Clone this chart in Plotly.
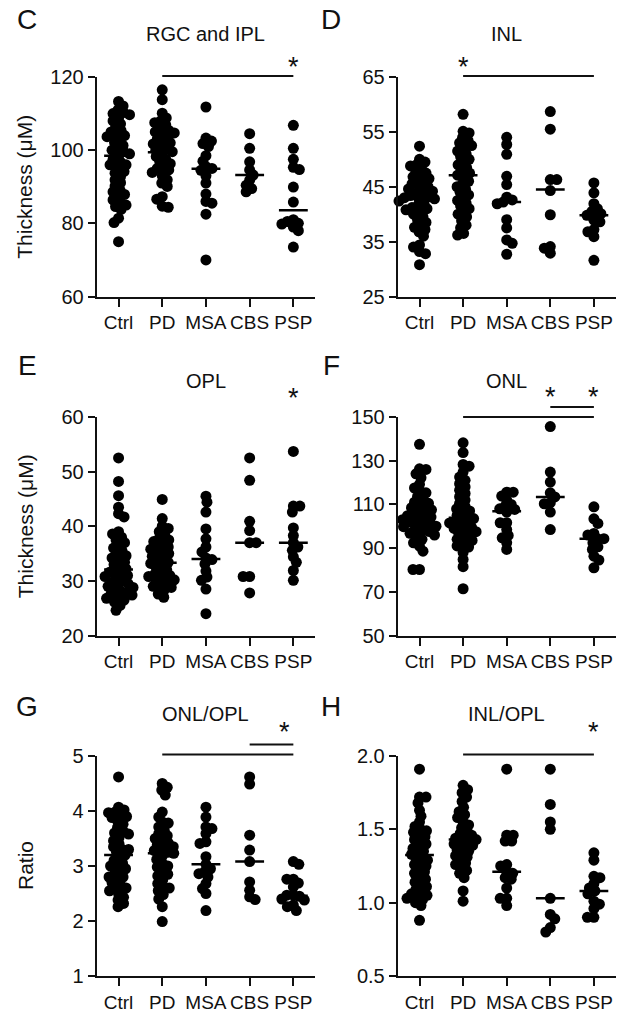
import numpy as np
import plotly.graph_objects as go

W, H = 632, 1016
FONT = "Liberation Sans, Arial, sans-serif"
INK = "#111111"

groups = ["Ctrl", "PD", "MSA", "CBS", "PSP"]

# ---------------- C: RGC and IPL ----------------
rgc_ctrl = [113.3, 112.1, 111.0, 110.3, 110.0, 109.7, 108.8, 108.0, 107.2, 106.2, 105.4, 105.0, 104.2, 104.0,
            103.7, 102.8, 102.1, 101.3, 100.3, 100.0, 99.6, 99.0, 98.3, 97.5, 96.7, 96.0, 96.0, 95.1, 94.2,
            93.7, 92.8, 91.9, 91.1, 90.2, 89.1, 88.6, 87.9, 87.3, 86.4, 85.7, 85.0, 84.6, 83.8, 81.4, 80.2, 75.0]
rgc_pd = [116.5, 113.8, 110.1, 108.8, 108.0, 107.5, 106.9, 106.0, 105.4, 105.0, 104.7, 104.0, 103.7, 103.0,
          102.4, 102.0, 101.7, 101.0, 100.4, 100.0, 99.6, 98.9, 98.3, 97.5, 96.9, 96.3, 95.5, 95.0, 94.6,
          93.9, 93.0, 91.9, 91.0, 90.1, 87.3, 86.6, 84.7, 84.4]
rgc_msa = [111.8, 103.3, 102.5, 101.8, 101.0, 98.5, 97.0, 95.5, 95.0, 94.5, 93.0, 91.0, 88.0, 86.0, 85.5, 82.5, 70.0]
rgc_cbs = [104.5, 100.5, 96.8, 94.6, 93.2, 91.8, 90.4, 89.5, 88.6]
rgc_psp = [106.8, 100.5, 97.5, 95.3, 94.7, 89.9, 85.8, 81.0, 80.5, 80.0, 79.8, 79.0, 78.0, 73.5]
rgc_med = [98.5, 99.4, 94.9, 93.2, 83.6]

# ---------------- D: INL ----------------
inl_ctrl = [52.4, 50.0, 49.5, 49.0, 48.8, 48.3, 47.8, 47.5, 47.0, 46.8, 46.5, 46.0, 45.8, 45.5, 45.0, 44.8,
            44.6, 44.2, 43.8, 43.6, 43.4, 43.2, 43.0, 42.8, 42.7, 42.4, 42.0, 41.6, 41.2, 41.0, 40.8, 40.4,
            40.0, 39.5, 39.0, 38.5, 38.0, 37.6, 37.2, 36.8, 36.0, 34.4, 34.0, 33.2, 32.8, 30.8]
inl_pd = [58.2, 55.1, 54.8, 54.0, 53.4, 53.0, 52.5, 52.0, 51.5, 51.0, 50.5, 50.0, 49.5, 49.0, 48.5, 48.0,
          47.5, 47.1, 46.6, 46.0, 45.5, 45.0, 44.5, 44.0, 43.5, 43.0, 42.5, 42.0, 41.5, 41.0, 40.5, 40.0,
          39.5, 38.8, 38.0, 37.5, 36.5, 36.2]
inl_msa = [54.0, 52.7, 50.9, 46.9, 45.4, 43.1, 42.6, 42.2, 41.9, 39.0, 37.5, 35.3, 34.7, 32.7]
inl_cbs = [58.7, 55.5, 46.3, 46.3, 44.3, 39.9, 34.1, 33.8, 32.9]
inl_psp = [45.7, 43.9, 41.9, 41.0, 40.5, 40.1, 39.8, 38.9, 38.6, 37.2, 36.8, 35.9, 31.6]
inl_med = [42.8, 47.1, 42.2, 44.5, 39.8]

# ---------------- E: OPL ----------------
opl_ctrl = [52.5, 48.2, 45.6, 43.5, 42.3, 41.7, 39.0, 38.6, 38.0, 37.5, 37.0, 36.5, 36.0, 35.5, 35.0, 34.6,
            34.2, 33.8, 33.4, 33.0, 32.6, 32.2, 31.8, 31.6, 31.4, 31.0, 30.8, 30.6, 30.2, 29.8, 29.5, 29.4,
            29.0, 28.8, 28.6, 28.2, 27.8, 27.6, 27.4, 27.0, 26.8, 26.5, 26.1, 25.5, 24.6]
opl_pd = [44.9, 41.4, 40.0, 39.6, 39.0, 38.4, 37.8, 37.5, 37.2, 36.6, 36.2, 36.0, 35.8, 35.5, 35.0, 34.8,
          34.5, 34.0, 33.6, 33.4, 33.2, 32.8, 32.4, 32.0, 31.6, 31.2, 31.0, 30.8, 30.4, 30.2, 30.0, 29.6,
          29.2, 29.0, 28.8, 28.2, 27.6, 27.0]
opl_msa = [45.5, 44.4, 42.6, 39.5, 37.7, 36.2, 35.3, 34.2, 33.9, 33.1, 31.8, 30.7, 30.1, 28.5, 24.0]
opl_cbs = [52.5, 48.4, 40.9, 39.2, 37.0, 37.0, 30.8, 30.8, 27.8]
opl_psp = [53.7, 43.7, 43.7, 42.6, 39.7, 38.3, 37.0, 36.2, 35.6, 34.4, 33.4, 31.9, 30.1]
opl_med = [32.1, 33.3, 34.0, 37.0, 37.0]

# ---------------- F: ONL ----------------
onl_ctrl = [137.5, 126.3, 126.0, 124.0, 122.2, 119.2, 117.5, 116.1, 115.3, 113.5, 112.0, 111.0, 110.5, 109.5,
            108.5, 108.0, 107.5, 106.5, 105.5, 105.0, 104.8, 104.2, 103.6, 103.0, 102.4, 102.0, 101.8, 101.2,
            100.6, 100.0, 99.8, 99.2, 98.4, 97.6, 97.0, 96.8, 96.0, 95.0, 94.0, 92.4, 90.9, 88.6, 80.2, 80.2]
onl_pd = [138.2, 133.7, 128.3, 127.5, 124.8, 122.5, 121.0, 119.5, 118.0, 116.5, 115.0, 113.5, 112.0, 110.5,
          109.0, 108.0, 107.0, 106.0, 105.0, 104.0, 103.5, 103.0, 102.0, 101.5, 101.0, 100.0, 99.5, 99.0,
          98.0, 97.5, 97.0, 96.0, 95.0, 94.0, 93.5, 92.0, 91.0, 90.5, 88.0, 84.8, 81.5, 71.4]
onl_msa = [115.6, 115.6, 113.8, 112.0, 110.0, 109.2, 108.0, 107.7, 106.5, 101.6, 101.6, 98.5, 95.8, 94.7, 92.4, 89.4]
onl_cbs = [145.6, 124.8, 120.2, 115.3, 113.4, 110.8, 110.3, 106.5, 98.5]
onl_psp = [108.9, 103.4, 101.3, 96.7, 96.0, 94.3, 94.3, 92.4, 90.6, 89.4, 86.3, 84.5, 81.0]
onl_med = [103.9, 103.9, 106.9, 113.4, 94.3]

# ---------------- G: ONL/OPL ----------------
r1_ctrl = [4.62, 4.07, 4.02, 3.98, 3.97, 3.92, 3.90, 3.88, 3.82, 3.76, 3.70, 3.64, 3.60, 3.58, 3.52, 3.46,
           3.40, 3.35, 3.30, 3.30, 3.25, 3.20, 3.15, 3.10, 3.05, 3.00, 3.00, 2.95, 2.90, 2.85, 2.80, 2.80,
           2.75, 2.70, 2.65, 2.60, 2.60, 2.55, 2.50, 2.43, 2.38, 2.32, 2.26]
r1_pd = [4.50, 4.43, 4.38, 4.29, 3.98, 3.89, 3.80, 3.78, 3.71, 3.65, 3.59, 3.55, 3.50, 3.45, 3.42, 3.38,
         3.35, 3.32, 3.28, 3.25, 3.23, 3.18, 3.12, 3.05, 3.00, 2.98, 2.90, 2.85, 2.82, 2.75, 2.68, 2.62,
         2.60, 2.55, 2.48, 2.40, 2.26, 1.99]
r1_msa = [4.07, 3.89, 3.71, 3.68, 3.59, 3.44, 3.41, 3.17, 3.03, 2.95, 2.90, 2.86, 2.80, 2.68, 2.59, 2.50, 2.19]
r1_cbs = [4.62, 4.49, 3.56, 3.29, 3.08, 2.71, 2.56, 2.44, 2.39]
r1_psp = [3.08, 3.03, 2.76, 2.76, 2.69, 2.62, 2.47, 2.47, 2.45, 2.40, 2.38, 2.29, 2.26, 2.19]
r1_med = [3.20, 3.23, 3.03, 3.08, 2.46]

# ---------------- H: INL/OPL ----------------
r2_ctrl = [1.91, 1.72, 1.72, 1.68, 1.63, 1.59, 1.55, 1.52, 1.50, 1.49, 1.48, 1.46, 1.45, 1.43, 1.42, 1.40,
           1.38, 1.37, 1.35, 1.34, 1.33, 1.31, 1.30, 1.29, 1.27, 1.26, 1.25, 1.23, 1.21, 1.20, 1.17, 1.16,
           1.14, 1.12, 1.11, 1.09, 1.07, 1.06, 1.05, 1.04, 1.03, 1.02, 1.00, 0.98, 0.88]
r2_pd = [1.80, 1.77, 1.75, 1.72, 1.69, 1.65, 1.62, 1.60, 1.58, 1.55, 1.53, 1.51, 1.49, 1.47, 1.46, 1.45,
         1.44, 1.43, 1.42, 1.41, 1.40, 1.39, 1.37, 1.36, 1.35, 1.33, 1.32, 1.31, 1.29, 1.27, 1.26, 1.24,
         1.22, 1.20, 1.17, 1.08, 1.01]
r2_msa = [1.91, 1.46, 1.46, 1.42, 1.42, 1.26, 1.25, 1.21, 1.20, 1.17, 1.16, 1.10, 1.03, 1.03, 0.98]
r2_cbs = [1.91, 1.67, 1.55, 1.50, 1.03, 0.92, 0.89, 0.83, 0.80]
r2_psp = [1.34, 1.29, 1.18, 1.17, 1.13, 1.10, 1.08, 1.06, 1.01, 0.99, 0.96, 0.90, 0.90]
r2_med = [1.325, 1.43, 1.21, 1.03, 1.08]

panel_letters = ["C", "D", "E", "F", "G", "H"]
panel_titles = ["RGC and IPL", "INL", "OPL", "ONL", "ONL/OPL", "INL/OPL"]
y_titles = ["Thickness (μM)", "", "Thickness (μM)", "", "Ratio", ""]
y_ticks = [[60, 80, 100, 120], [25, 35, 45, 55, 65], [20, 30, 40, 50, 60],
           [50, 70, 90, 110, 130, 150], [1, 2, 3, 4, 5], [0.5, 1.0, 1.5, 2.0]]
y_ticktext = [None, None, None, None, None, ["0.5", "1.0", "1.5", "2.0"]]
panel_data = [
    [rgc_ctrl, rgc_pd, rgc_msa, rgc_cbs, rgc_psp],
    [inl_ctrl, inl_pd, inl_msa, inl_cbs, inl_psp],
    [opl_ctrl, opl_pd, opl_msa, opl_cbs, opl_psp],
    [onl_ctrl, onl_pd, onl_msa, onl_cbs, onl_psp],
    [r1_ctrl, r1_pd, r1_msa, r1_cbs, r1_psp],
    [r2_ctrl, r2_pd, r2_msa, r2_cbs, r2_psp],
]
panel_medians = [rgc_med, inl_med, opl_med, onl_med, r1_med, r2_med]
sig_bars = [[(1, 4, 0)], [(1, 4, 0)], [], [(1, 4, 0), (3, 4, 1)], [(1, 4, 0), (3, 4, 1)], [(1, 4, 0)]]
sig_stars = [[4.0], [1.0], [4.0], [3.0, 4.0], [3.8], [4.0]]

# ---------------- layout geometry (pixels) ----------------
COL_X = [(96.7, 315.2), (397.7, 615.7)]
ROW_Y = [(77.0, 296.5), (417.0, 635.5), (756.0, 976.0)]
TITLE_Y = [34, 381, 714]
LETTER_X = [27, 331]
LETTER_Y = [20, 365, 706]
BAR_OFF = [[1, 0], [1, 0], [0, 0], [0, 10], [1.5, 11.5], [1.5, 0]]
STAR_OFF = [15, 15, 24, 25, 29, 29]
DOT = 11
FS = 20
FS_CAT = 19


def swarm(vals, px_per_unit, px_per_cat, diam=DOT, overlap=0.55):
    """Deterministic beeswarm: nearest free horizontal slot, alternating sides on ties."""
    ys = np.asarray(vals, dtype=float) * px_per_unit
    order = np.argsort(-ys, kind="stable")
    px_list, py_list = [], []
    offs = np.zeros(len(ys))
    mind2 = (diam * overlap) ** 2
    steps = [k * 0.5 for k in range(0, 120)]
    flip = 1.0

    def free(c, y):
        for qx, qy in zip(px_list, py_list):
            if (c - qx) ** 2 + (y - qy) ** 2 < mind2:
                return False
        return True

    for i in order:
        y = ys[i]
        chosen = 0.0
        for s in steps:
            a, b = flip * s, -flip * s
            if free(a, y):
                chosen = a
                break
            if free(b, y):
                chosen = b
                break
        if chosen != 0.0:
            flip = -np.sign(chosen)
        offs[i] = chosen
        px_list.append(chosen)
        py_list.append(y)
    return offs / px_per_cat


fig = go.Figure()
annotations = []
shapes = []

for p in range(6):
    row, col = divmod(p, 2)
    x0, x1 = COL_X[col]
    yt, yb = ROW_Y[row]
    suf = "" if p == 0 else str(p + 1)
    xa, ya = "x" + suf, "y" + suf
    ticks = y_ticks[p]
    ymin, ymax = ticks[0], ticks[-1]
    ax_h = yb - yt
    px_per_unit = ax_h / (ymax - ymin)
    px_per_cat = (x1 - x0) / 5.0

    for g in range(5):
        vals = panel_data[p][g]
        offs = swarm(vals, px_per_unit, px_per_cat)
        fig.add_trace(go.Scatter(
            x=g + offs, y=vals, mode="markers", xaxis=xa, yaxis=ya,
            marker=dict(size=DOT, color="black", line=dict(width=0)),
            showlegend=False, cliponaxis=False, hoverinfo="y"))
        m = panel_medians[p][g]
        fig.add_trace(go.Scatter(
            x=[g - 0.33, g + 0.33], y=[m, m], mode="lines", xaxis=xa, yaxis=ya,
            line=dict(color="black", width=2.5), showlegend=False, hoverinfo="skip"))

    axis_x = dict(domain=[x0 / W, x1 / W], range=[-0.5, 4.5], anchor=ya,
                  tickmode="array", tickvals=list(range(5)), ticktext=groups, tickangle=0,
                  showline=True, linecolor=INK, linewidth=2, ticks="outside",
                  ticklen=8, tickwidth=2, tickcolor=INK, showgrid=False, zeroline=False,
                  automargin=False,
                  tickfont=dict(family=FONT, size=FS_CAT, color=INK), fixedrange=True)
    axis_y = dict(domain=[1 - yb / H, 1 - yt / H], range=[ymin, ymax], anchor=xa,
                  tickmode="array", tickvals=ticks,
                  showline=True, linecolor=INK, linewidth=2, ticks="outside",
                  ticklen=7, tickwidth=2, tickcolor=INK, showgrid=False, zeroline=False,
                  automargin=False,
                  tickfont=dict(family=FONT, size=FS, color=INK), fixedrange=True)
    if y_ticktext[p]:
        axis_y["ticktext"] = y_ticktext[p]
    fig.layout["xaxis" + suf] = axis_x
    fig.layout["yaxis" + suf] = axis_y

    annotations.append(dict(text=panel_letters[p], x=LETTER_X[col] / W, y=1 - LETTER_Y[row] / H,
                            xref="paper", yref="paper", showarrow=False, xanchor="center", yanchor="middle",
                            font=dict(family=FONT, size=28, color=INK)))
    annotations.append(dict(text=panel_titles[p], x=(x0 + x1) / 2 / W, y=1 - TITLE_Y[row] / H,
                            xref="paper", yref="paper", showarrow=False, xanchor="center", yanchor="middle",
                            font=dict(family=FONT, size=FS, color=INK)))
    if y_titles[p]:
        annotations.append(dict(text=y_titles[p], x=25 / W, y=1 - (yt + yb) / 2 / H,
                                xref="paper", yref="paper", showarrow=False, textangle=-90,
                                xanchor="center", yanchor="middle",
                                font=dict(family=FONT, size=21, color=INK)))
    for (ga, gb, lev) in sig_bars[p]:
        dy = BAR_OFF[p][lev]
        yy = 1 + dy / ax_h
        shapes.append(dict(type="line", xref=xa, yref=ya + " domain", x0=ga, x1=gb, y0=yy, y1=yy,
                           line=dict(color=INK, width=2)))
    for sx in sig_stars[p]:
        yy = 1 + (STAR_OFF[p] - 5) / ax_h
        annotations.append(dict(text="*", x=sx, y=yy, xref=xa, yref=ya + " domain", showarrow=False,
                                xanchor="center", yanchor="middle",
                                font=dict(family=FONT, size=27, color=INK)))

fig.update_layout(template="none", width=W, height=H,
                  margin=dict(l=0, r=0, t=0, b=0, pad=0, autoexpand=False),
                  paper_bgcolor="white", plot_bgcolor="white",
                  annotations=annotations, shapes=shapes, showlegend=False,
                  font=dict(family=FONT, color=INK))

fig.write_html("out.html", config={"displayModeBar": False},
               post_script="document.body.style.margin='0px';document.body.style.overflow='hidden';")
